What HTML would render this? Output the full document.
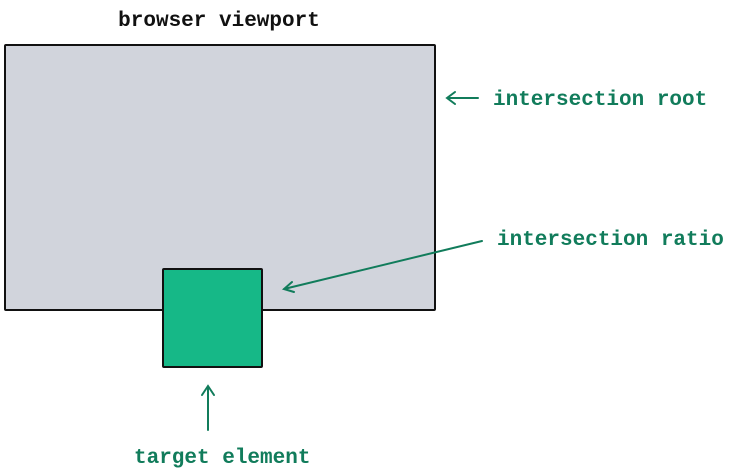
<!DOCTYPE html>
<html><head><style>
html,body{margin:0;padding:0;background:#fff;width:730px;height:473px;overflow:hidden}
text{font-family:"Liberation Mono",monospace;font-size:21px;font-weight:bold}
</style></head><body>
<svg width="730" height="473" viewBox="0 0 730 473">
<rect x="5" y="45" width="430" height="265" fill="#d1d4dc" stroke="#111" stroke-width="2" rx="1"/>
<rect x="163" y="269" width="99" height="98" fill="#16b887" stroke="#111" stroke-width="2" rx="1"/>
<text x="219" y="26" text-anchor="middle" fill="#111">browser viewport</text>
<g stroke="#117c5b" stroke-width="2" fill="none" stroke-linecap="round">
<path d="M478 98 H447 M455 92 L447 98 L455 104"/>
<path d="M482 241 L284 289 M292 282 L284 289 L294 292"/>
<path d="M208 430 V386 M202 395 L208 386 L214 395"/>
</g>
<g fill="#117c5b">
<text x="493" y="105">intersection root</text>
<text x="497" y="245">intersection ratio</text>
<text x="134" y="463">target element</text>
</g>
</svg>
</body></html>
